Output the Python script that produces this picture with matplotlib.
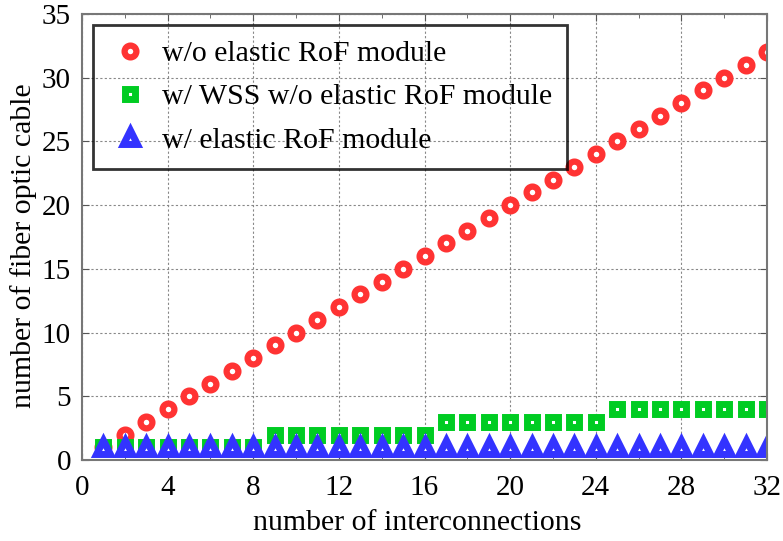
import numpy as np
import matplotlib
matplotlib.use('Agg')
import matplotlib.pyplot as plt
from matplotlib.ticker import MultipleLocator

plt.rcParams['font.family'] = ['Liberation Serif', 'DejaVu Serif']

# number of interconnections
n_inter = np.arange(1, 33)
# fiber count for each scheme
no_elastic = [1, 2, 3, 4, 5, 6, 7, 8, 9, 10, 11, 12, 13, 14, 15, 16,
              17, 18, 19, 20, 21, 22, 23, 24, 25, 26, 27, 28, 29, 30, 31, 32]
wss_no_elastic = [1, 1, 1, 1, 1, 1, 1, 1, 2, 2, 2, 2, 2, 2, 2, 2,
                  3, 3, 3, 3, 3, 3, 3, 3, 4, 4, 4, 4, 4, 4, 4, 4]
elastic = [1] * 32

labels = ['w/o elastic RoF module',
          'w/ WSS w/o elastic RoF module',
          'w/ elastic RoF module']

fig = plt.figure(figsize=(7.83, 5.41), dpi=100)
ax = fig.add_axes([82 / 783, 81 / 541, 685 / 783, 446 / 541])

ax.plot(n_inter, no_elastic, 'o', ms=8.5, mew=4.5, mfc='white', mec='#ff3333',
        linestyle='none', label=labels[0])
ax.plot(n_inter, wss_no_elastic, 's', ms=7.5, mew=5, mfc='white', mec='#00cc22',
        linestyle='none', label=labels[1])
ax.plot(n_inter, elastic, '^', ms=10, mew=5, mfc='white', mec='#3333ff',
        linestyle='none', label=labels[2])

ax.set_xlim(0, 32)
ax.set_ylim(0, 35)
ax.xaxis.set_major_locator(MultipleLocator(4))
ax.xaxis.set_minor_locator(MultipleLocator(2))
ax.yaxis.set_major_locator(MultipleLocator(5))
ax.tick_params(which='both', direction='in', top=True, right=True,
               labelsize=21, color='#555555')
ax.tick_params(axis='x', pad=11)
ax.tick_params(axis='y', pad=8)
ax.tick_params(which='major', length=5)
ax.tick_params(which='minor', length=3)
ax.grid(True, which='major', linestyle=(0, (2, 2)), color='#888888', linewidth=0.8)
for s in ax.spines.values():
    s.set_color('#777777')
    s.set_linewidth(1.5)

ax.set_xlabel('number of interconnections', fontsize=21.5)
ax.set_ylabel('number of fiber optic cable', fontsize=21.5)
ax.xaxis.set_label_coords(0.49, -0.112)
ax.yaxis.set_label_coords(-0.066, 0.48)

leg = ax.legend(loc='upper left', bbox_to_anchor=(0.016, 0.975), fontsize=21.5,
                frameon=True, fancybox=False, edgecolor='black',
                borderpad=0.5, handletextpad=0.3, labelspacing=0.55,
                handlelength=1.5, borderaxespad=0)
leg.get_frame().set_facecolor('none')
leg.get_frame().set_linewidth(2)

fig.savefig('out.png', dpi=100)
